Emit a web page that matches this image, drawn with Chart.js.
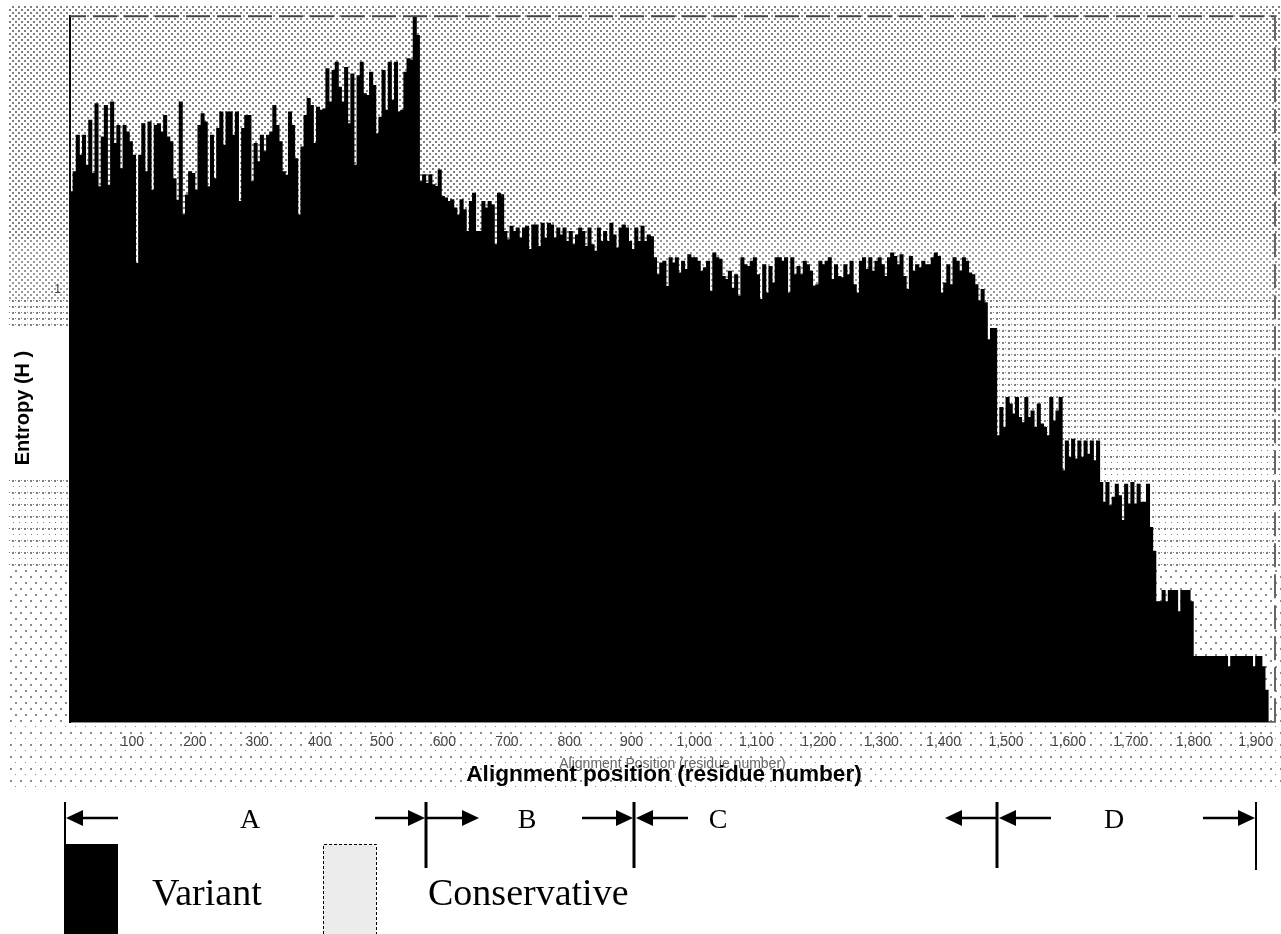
<!DOCTYPE html>
<html>
<head>
<meta charset="utf-8">
<title>Entropy</title>
<style>
  body { margin: 0; background: #fff; }
  canvas { display: block; }
</style>
<script src="https://cdn.jsdelivr.net/npm/chart.js@4/dist/chart.umd.min.js"></script>
</head>
<body>
<canvas id="myChart" width="1281" height="934"></canvas>
<script>
// entropy per block of 5 alignment positions
const regionA = [
  1.226,1.272,1.356,1.310,1.356,1.287,1.391,1.268,1.429,1.237,1.352,1.425,1.241,1.433,1.337,1.379,1.279,1.379,1.364,1.341,
  1.310,1.060,1.310,1.383,1.272,1.387,1.229,1.379,1.383,1.364,1.402,1.352,1.341,1.256,1.206,1.433,1.172,1.218,1.272,1.268,
  1.229,1.379,1.406,1.387,1.237,1.356,1.256,1.372,1.410,1.333,1.410,1.410,1.356,1.410,1.203,1.372,1.402,1.402,1.249,1.337,
  1.295,1.356,1.318,1.356,1.364,1.425,1.379,1.341,1.272,1.264,1.410,1.379,1.302,1.172,1.329,1.402,1.441,1.425,1.337,
  1.421,1.414,1.417,1.510,1.433,1.506,1.525,1.467,1.433,1.513,1.383,1.498,1.287,1.494,1.525,1.452,1.448,1.502,1.471,1.360,
  1.398,1.506,1.414,1.525,1.437,1.525,1.410,1.414,1.502,1.533,1.530,1.629,1.587
];
const regionB = [
  1.249,1.265,1.245,1.265,1.242,1.238,1.276,1.215,1.211,1.203,1.207,1.188,1.172,1.207,1.184,1.134,1.203,1.222,1.134,1.134,
  1.203,1.188,1.203,1.195,1.103,1.222,1.219,
  1.134,1.115,1.146,1.134,1.142,1.119,1.142,1.146,1.092,1.149,1.149,1.099,1.153,1.119,1.153,1.149,1.119,1.142,1.126,1.142,
  1.111,1.134,1.103,1.126,1.142,1.134,1.099,1.142,1.103,1.088,1.142,1.111,1.134,1.111,1.153,1.126,1.096,1.142,1.149,1.142,
  1.111,1.092,1.142,1.111,1.146,1.111,1.126,1.122
];
const regionC = [
  1.073,1.034,1.061,1.065,1.007,1.073,1.061,1.073,1.038,1.065,1.046,1.080,1.073,1.073,1.065,1.042,1.050,1.065,0.996,1.084,
  1.073,1.069,1.030,1.023,1.042,1.003,1.034,0.984,1.073,1.057,1.053,1.065,1.073,1.034,0.977,1.057,0.992,1.053,1.015,1.073,
  1.073,1.065,1.073,0.992,1.073,1.034,1.053,1.034,1.065,1.057,1.042,1.007,1.011,1.065,1.057,1.065,1.073,1.023,1.057,1.030,
  1.027,1.057,1.034,1.065,1.011,0.992,1.065,1.073,1.046,1.073,1.042,1.065,1.073,1.057,1.030,1.073,1.084,1.076,1.057,1.080,
  1.030,1.000,1.076,1.042,1.057,1.050,1.065,1.057,1.057,1.073,1.084,1.076,0.992,1.015,1.057,1.011,1.073,1.065,1.042,1.073,
  1.065,1.038,1.034,1.011,0.973,1.000,0.969,0.884,0.910,0.910
];
const regionD = [
  0.662,0.727,0.681,0.750,0.735,0.712,0.750,0.704,0.692,0.750,0.704,0.719,0.681,0.735,0.689,0.681,0.662,0.750,0.696,0.719,0.750,
  0.581,0.650,0.612,0.654,0.608,0.650,0.612,0.650,0.619,0.650,0.604,0.650,
  0.554,0.508,0.554,0.500,0.520,0.550,0.523,0.466,0.550,0.504,0.554,0.504,0.550,0.508,0.508,0.550,0.450,0.395,
  0.278,0.278,0.304,0.278,0.304,0.304,0.304,0.255,0.304,0.304,0.304,0.278,
  0.152,0.152,0.152,0.152,0.152,0.152,0.152,0.152,0.152,0.152,0.152,0.128,
  0.152,0.152,0.152,0.152,0.152,0.152,0.152,0.128,0.152,0.152,0.128,0.074,0,0
];
const entropy = [...regionA, ...regionB, ...regionC, ...regionD];
const blockSize = 5;
const xTicks = [100,200,300,400,500,600,700,800,900,1000,1100,1200,1300,1400,1500,1600,1700,1800,1900];
const yTicks = [1];

const axisTitleX = 'Alignment Position (residue number)';
const figureTitleX = 'Alignment position (residue number)';
const figureTitleY = 'Entropy (H )';
const legendNames = ['Variant', 'Conservative'];
const regionNames = ['A', 'B', 'C', 'D'];

const BLACK = '#000';

// halftone background, gets lighter going down like the scanned original
function dotPattern(ctx, w, h, dots, color) {
    const c = document.createElement('canvas');
    c.width = w;
    c.height = h;
    const g = c.getContext('2d');
    g.fillStyle = color;
    dots.forEach(d => g.fillRect(d[0], d[1], d[2], d[2]));
    return ctx.createPattern(c, 'repeat');
}

const halftone = {
    id: 'halftone',
    beforeDraw(chart) {
        const ctx = chart.ctx;
        const bands = [
            [5, 240, 6, 6, [[0,0,2],[3,3,2]], '#808080'],
            [240, 300, 6, 6, [[0,0,2],[3,3,2]], '#999'],
            [300, 445, 6, 6, [[0,0,2],[3,0,1]], '#808080'],
            [445, 570, 6, 12, [[0,0,2],[3,0,1],[1,6,1]], '#808080'],
            [570, 720, 10, 12, [[0,0,2],[5,6,2]], '#8a8a8a'],
            [720, 790, 10, 12, [[0,0,2],[5,6,1]], '#8a8a8a']
        ];
        ctx.save();
        bands.forEach(b => {
            ctx.fillStyle = dotPattern(ctx, b[2], b[3], b[4], b[5]);
            ctx.fillRect(8, b[0], 1273, b[1] - b[0]);
        });
        // white box behind the y title
        ctx.fillStyle = '#fff';
        ctx.fillRect(0, 330, 68, 146);
        ctx.restore();
    }
};

function arrow(ctx, tail, tip, y) {
    const dir = tip > tail ? 1 : -1;
    ctx.beginPath();
    ctx.moveTo(tail, y);
    ctx.lineTo(tip - dir * 10, y);
    ctx.lineWidth = 2.5;
    ctx.stroke();
    ctx.beginPath();
    ctx.moveTo(tip, y);
    ctx.lineTo(tip - dir * 17, y - 8);
    ctx.lineTo(tip - dir * 17, y + 8);
    ctx.closePath();
    ctx.fill();
}

const annotations = {
    id: 'annotations',
    afterDraw(chart) {
        const ctx = chart.ctx;
        const area = chart.chartArea;
        ctx.save();

        // dashed top and right frame
        ctx.strokeStyle = '#444';
        ctx.lineWidth = 2;
        ctx.setLineDash([24, 7]);
        ctx.lineDashOffset = 8;
        ctx.beginPath();
        ctx.moveTo(area.left, area.top);
        ctx.lineTo(area.right, area.top);
        ctx.stroke();
        ctx.lineDashOffset = 0;
        ctx.strokeStyle = '#666';
        ctx.beginPath();
        ctx.moveTo(area.right, area.top);
        ctx.lineTo(area.right, area.bottom);
        ctx.stroke();
        ctx.setLineDash([]);

        ctx.fillStyle = BLACK;
        ctx.strokeStyle = BLACK;
        ctx.textBaseline = 'alphabetic';

        // bold titles typed over the plot
        ctx.font = 'bold 22.6px "Liberation Sans"';
        ctx.textAlign = 'center';
        ctx.fillText(figureTitleX, 664, 781);
        ctx.save();
        ctx.translate(29, 408);
        ctx.rotate(-Math.PI / 2);
        ctx.font = 'bold 20px "Liberation Sans"';
        ctx.fillText(figureTitleY, 0, 0);
        ctx.restore();

        // region dividers
        [[65, 802, 846, 2], [426, 802, 868, 3], [634, 802, 868, 3], [997, 802, 868, 3], [1256, 802, 870, 2]].forEach(d => {
            ctx.lineWidth = d[3];
            ctx.beginPath();
            ctx.moveTo(d[0], d[1]);
            ctx.lineTo(d[0], d[2]);
            ctx.stroke();
        });
        const arrowY = 818;
        [[118, 66], [375, 425], [427, 479], [582, 633], [688, 636], [997, 945], [1051, 999], [1203, 1255]].forEach(a => {
            arrow(ctx, a[0], a[1], arrowY);
        });
        ctx.font = '28px "Liberation Serif"';
        [250, 527, 718, 1114].forEach((x, i) => ctx.fillText(regionNames[i], x, 828));

        // legend swatches
        ctx.fillStyle = BLACK;
        ctx.fillRect(64, 844, 54, 90);
        ctx.fillStyle = '#ececec';
        ctx.fillRect(323, 844, 53, 90);
        ctx.lineWidth = 1;
        ctx.setLineDash([3, 2]);
        ctx.beginPath();
        ctx.moveTo(323.5, 934);
        ctx.lineTo(323.5, 844.5);
        ctx.lineTo(376.5, 844.5);
        ctx.lineTo(376.5, 934);
        ctx.stroke();
        ctx.setLineDash([]);
        ctx.fillStyle = BLACK;
        ctx.textAlign = 'left';
        ctx.font = '38px "Liberation Serif"';
        ctx.fillText(legendNames[0], 152, 905);
        ctx.fillText(legendNames[1], 428, 905);
        ctx.restore();
    }
};

new Chart(document.getElementById('myChart').getContext('2d'), {
    type: 'bar',
    data: {
        datasets: [{
            data: entropy.map((v, i) => ({ x: i * blockSize + blockSize / 2, y: v })),
            backgroundColor: BLACK,
            borderWidth: 0,
            barThickness: 3.4
        }]
    },
    options: {
        responsive: false,
        animation: false,
        layout: { padding: { top: 14, right: 6, bottom: 161 } },
        plugins: { legend: { display: false }, tooltip: { enabled: false } },
        scales: {
            x: {
                type: 'linear',
                offset: false,
                min: 0,
                max: 1931,
                grid: { display: false, drawTicks: false, offset: false },
                border: { color: '#888', width: 2 },
                afterBuildTicks: s => { s.ticks = xTicks.map(v => ({ value: v })); },
                afterFit: s => { s.height = 51; s.paddingLeft = 0; s.paddingRight = 0; },
                ticks: {
                    autoSkip: false,
                    maxRotation: 0,
                    padding: 12,
                    color: '#444',
                    font: { family: 'Liberation Sans', size: 14 },
                    callback: v => v.toLocaleString('en-US')
                },
                title: {
                    display: true,
                    text: axisTitleX,
                    color: '#666',
                    padding: { top: 3, bottom: 0 },
                    font: { family: 'Liberation Sans', size: 14 }
                }
            },
            y: {
                min: 0,
                max: 1.631,
                grid: { display: false, drawTicks: false },
                border: { color: BLACK, width: 2 },
                afterBuildTicks: s => { s.ticks = yTicks.map(v => ({ value: v })); },
                afterFit: s => { s.width = 70; },
                ticks: {
                    padding: 9,
                    color: '#444',
                    font: { family: 'Liberation Sans', size: 12 }
                }
            }
        }
    },
    plugins: [halftone, annotations]
});
</script>
</body>
</html>
